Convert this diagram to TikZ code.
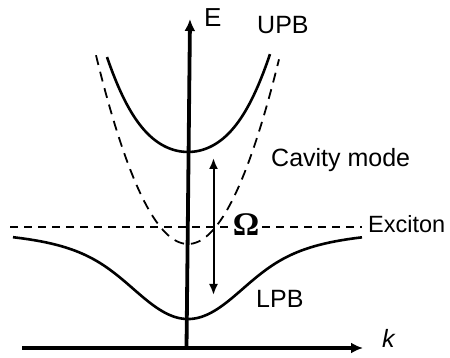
\documentclass[tikz,border=0pt]{standalone}
\usepackage{fontspec}
\setmainfont{Liberation Sans}
\newfontfamily\omegafont{Liberation Serif}
\usetikzlibrary{arrows.meta}
\begin{document}
\begin{tikzpicture}[x=10pt,y=-10pt,
  axisline/.style={line width=3.8pt,-{Latex[length=12pt,width=11pt]}},
  branch/.style={line width=2.6pt},
  dashline/.style={line width=1.9pt,dash pattern=on 8pt off 6pt},
  cavline/.style={line width=1.8pt,dash pattern=on 10pt off 7pt},
  rabi/.style={line width=2pt,{Latex[length=11pt,width=9pt]}-{Latex[length=11pt,width=9pt]}},
  lbl/.style={inner sep=0pt,anchor=base west,font=\fontsize{25}{28}\selectfont}]
\useasboundingbox (0,0) rectangle (45,35.8);
% axes
\coordinate (origin) at (18.65,34.8);
\coordinate (etip) at (19.0,1.9);
\coordinate (kstart) at (2.2,34.8);
\coordinate (ktip) at (36.3,34.8);
\draw[axisline] (origin) -- (etip);
\draw[axisline] (kstart) -- (ktip);
% exciton line
\coordinate (exl) at (1.0,22.67);
\coordinate (exr) at (36.2,22.67);
\draw[dashline] (exl) -- (exr);
% cavity mode
\draw[cavline] plot[domain=-9.2:9.1,samples=80,variable=\s] ({18.8+\s},{24.4-0.223*\s*\s});
% UPB
\draw[branch] plot[domain=-8.1:8.2,samples=100,variable=\s]
  ({18.8+\s},{(47.1-0.223*\s*\s)/2 - sqrt(((1.7-0.223*\s*\s)/2)*((1.7-0.223*\s*\s)/2)+69.06)});
% LPB
\draw[branch] plot[domain=-17.5:17.4,samples=160,variable=\s]
  ({18.8+\s},{(47.1-0.223*\s*\s)/2 + sqrt(((1.7-0.223*\s*\s)/2)*((1.7-0.223*\s*\s)/2)+69.06)});
% Rabi arrow
\coordinate (rtop) at (21.35,15.8);
\coordinate (rbot) at (21.35,29.5);
\draw[rabi] (rtop) -- (rbot);
% labels
\node[lbl,font=\fontsize{26}{28}\selectfont] (E) at (20.4,2.65) {E};
\node[lbl] (upb) at (25.7,3.4) {UPB};
\node[lbl] (cav) at (27.1,16.65) {Cavity mode};
\node[lbl,font=\fontsize{23.5}{28}\selectfont] (exc) at (36.8,23.3) {Exciton};
\node[lbl] (lpb) at (25.6,30.8) {LPB};
\node[lbl] (k) at (38.2,34.7) {\itshape k};
\node[inner sep=1pt,fill=white,font=\fontsize{33}{34}\selectfont\omegafont\bfseries] (om) at (24.6,22.5) {Ω};
\end{tikzpicture}
\end{document}
